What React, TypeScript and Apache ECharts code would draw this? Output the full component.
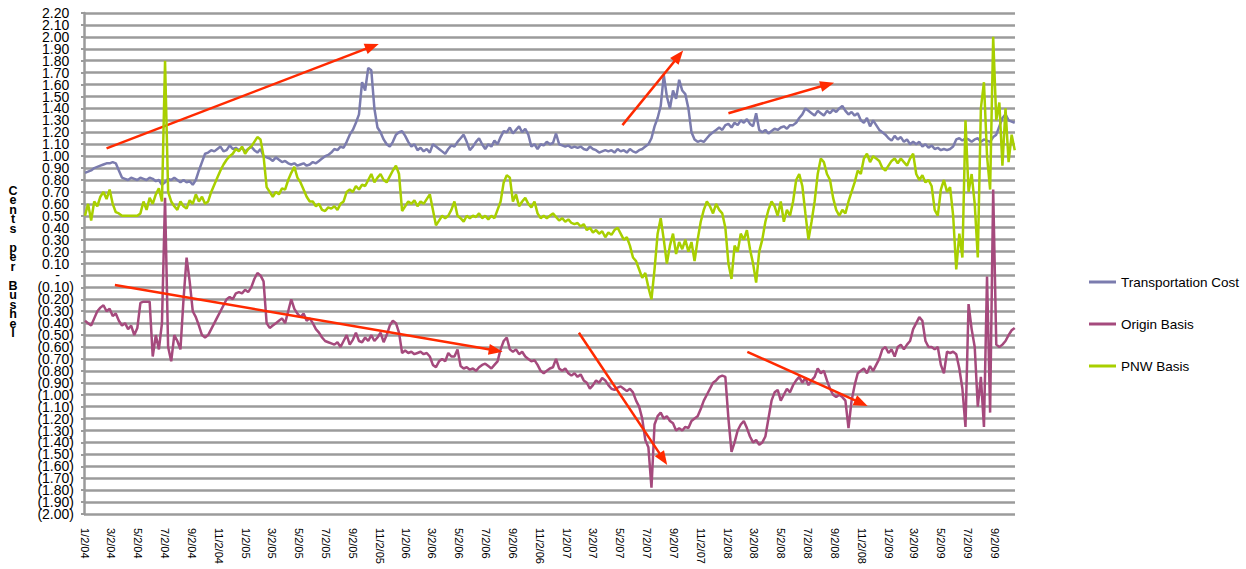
import React, { useEffect, useRef } from "react";
import * as echarts from "echarts";

const FONT = "'Liberation Sans', Arial, Helvetica, sans-serif";

const seriesNames = ["Transportation Cost", "Origin Basis", "PNW Basis"];
const seriesColors = ["#7b7cae", "#a54a7d", "#a8cf00"];

// weekly observations starting 1/2/04
const firstObservation = "1/2/04";
const observationStepDays = 7;

const xTickLabels = [
  "1/2/04", "3/2/04", "5/2/04", "7/2/04", "9/2/04", "11/2/04",
  "1/2/05", "3/2/05", "5/2/05", "7/2/05", "9/2/05", "11/2/05",
  "1/2/06", "3/2/06", "5/2/06", "7/2/06", "9/2/06", "11/2/06",
  "1/2/07", "3/2/07", "5/2/07", "7/2/07", "9/2/07", "11/2/07",
  "1/2/08", "3/2/08", "5/2/08", "7/2/08", "9/2/08", "11/2/08",
  "1/2/09", "3/2/09", "5/2/09", "7/2/09", "9/2/09",
];

const yMin = -2.0;
const yMax = 2.2;
const yStep = 0.1;

const transportationCost = [
  0.86, 0.87, 0.88, 0.90, 0.91, 0.92, 0.93, 0.94, 0.94, 0.95,
  0.94, 0.88, 0.82, 0.81, 0.80, 0.82, 0.81, 0.80, 0.82, 0.81,
  0.80, 0.82, 0.81, 0.79, 0.80, 0.76, 0.78, 0.81, 0.80, 0.82,
  0.80, 0.78, 0.80, 0.78, 0.79, 0.76, 0.80, 0.88, 0.95, 1.02,
  1.03, 1.05, 1.04, 1.06, 1.08, 1.04, 1.05, 1.09, 1.06, 1.07,
  1.05, 1.07, 1.04, 1.06, 1.08, 1.05, 1.03, 1.06, 1.00, 0.99,
  0.98, 0.96, 0.99, 0.97, 0.95, 0.96, 0.94, 0.93, 0.94, 0.92,
  0.93, 0.94, 0.92, 0.93, 0.95, 0.94, 0.96, 0.98, 1.00, 1.01,
  1.03, 1.06, 1.05, 1.08, 1.07, 1.12, 1.18, 1.22, 1.28, 1.35,
  1.62, 1.55, 1.74, 1.72, 1.40, 1.24, 1.20, 1.14, 1.10, 1.08,
  1.12, 1.18, 1.20, 1.21, 1.17, 1.12, 1.08, 1.10, 1.05, 1.07,
  1.04, 1.06, 1.03, 1.10, 1.08, 1.06, 1.04, 1.02, 1.06, 1.09,
  1.08, 1.12, 1.15, 1.18, 1.12, 1.05, 1.08, 1.12, 1.15, 1.10,
  1.06, 1.10, 1.08, 1.13, 1.10, 1.16, 1.21, 1.20, 1.24, 1.19,
  1.22, 1.25, 1.20, 1.23, 1.18, 1.08, 1.10, 1.06, 1.10, 1.09,
  1.12, 1.10, 1.11, 1.19, 1.10, 1.09, 1.08, 1.09, 1.07, 1.08,
  1.07, 1.08, 1.06, 1.05, 1.08, 1.06, 1.05, 1.03, 1.04, 1.05,
  1.04, 1.05, 1.03, 1.06, 1.04, 1.05, 1.03, 1.06, 1.04, 1.03,
  1.05, 1.06, 1.08, 1.10, 1.15, 1.25, 1.32, 1.42, 1.68, 1.50,
  1.40, 1.55, 1.48, 1.64, 1.55, 1.52, 1.40, 1.20, 1.14, 1.12,
  1.13, 1.12, 1.15, 1.18, 1.20, 1.22, 1.24, 1.22, 1.26, 1.27,
  1.24, 1.28, 1.26, 1.30, 1.28, 1.31, 1.27, 1.25, 1.36, 1.22,
  1.20, 1.22, 1.19, 1.21, 1.23, 1.22, 1.24, 1.25, 1.23, 1.26,
  1.26, 1.28, 1.32, 1.35, 1.40, 1.38, 1.36, 1.34, 1.38, 1.36,
  1.34, 1.38, 1.36, 1.39, 1.37, 1.40, 1.42, 1.38, 1.35, 1.37,
  1.34, 1.36, 1.30, 1.28, 1.32, 1.25, 1.30, 1.26, 1.22, 1.20,
  1.18, 1.15, 1.13, 1.17, 1.14, 1.16, 1.12, 1.14, 1.10, 1.12,
  1.10, 1.12, 1.08, 1.10, 1.07, 1.09, 1.06, 1.07, 1.05, 1.06,
  1.05, 1.06, 1.08, 1.14, 1.15, 1.13, 1.15, 1.14, 1.12, 1.14,
  1.15, 1.12, 1.14, 1.13, 1.12, 1.16, 1.18, 1.25, 1.32, 1.35,
  1.30, 1.29, 1.28,
];

const originBasis = [
  -0.38, -0.40, -0.42, -0.36, -0.30, -0.27, -0.25, -0.30, -0.28, -0.34,
  -0.32, -0.38, -0.42, -0.40, -0.45, -0.42, -0.50, -0.44, -0.23, -0.22,
  -0.22, -0.22, -0.68, -0.50, -0.62, -0.40, 0.65, -0.60, -0.72, -0.50,
  -0.55, -0.62, -0.20, 0.15, -0.05, -0.30, -0.35, -0.42, -0.50, -0.52,
  -0.50, -0.45, -0.40, -0.35, -0.30, -0.25, -0.20, -0.18, -0.20, -0.15,
  -0.14, -0.15, -0.12, -0.14, -0.10, -0.03, 0.02, 0.00, -0.05, -0.40,
  -0.44, -0.42, -0.40, -0.38, -0.36, -0.40, -0.30, -0.20, -0.28, -0.32,
  -0.35, -0.32, -0.38, -0.36, -0.40, -0.45, -0.48, -0.52, -0.55, -0.56,
  -0.57, -0.58, -0.56, -0.60, -0.55, -0.50, -0.58, -0.54, -0.48, -0.55,
  -0.56, -0.52, -0.55, -0.50, -0.55, -0.52, -0.48, -0.56, -0.50, -0.42,
  -0.38, -0.40, -0.48, -0.65, -0.63, -0.65, -0.64, -0.66, -0.65, -0.64,
  -0.66, -0.65, -0.68, -0.75, -0.77, -0.72, -0.70, -0.72, -0.65, -0.68,
  -0.68, -0.62, -0.76, -0.78, -0.77, -0.79, -0.78, -0.80, -0.77, -0.75,
  -0.74, -0.76, -0.78, -0.75, -0.72, -0.62, -0.55, -0.52, -0.62, -0.64,
  -0.62, -0.66, -0.64, -0.68, -0.70, -0.72, -0.71, -0.75, -0.80, -0.82,
  -0.80, -0.78, -0.77, -0.70, -0.78, -0.80, -0.78, -0.82, -0.84, -0.82,
  -0.85, -0.83, -0.88, -0.90, -0.95, -0.92, -0.88, -0.90, -0.86, -0.88,
  -0.92, -0.95, -0.96, -0.94, -0.93, -0.95, -0.97, -0.95, -0.98, -1.05,
  -1.10, -1.20, -1.38, -1.44, -1.78, -1.25, -1.18, -1.15, -1.20, -1.18,
  -1.22, -1.24, -1.30, -1.28, -1.30, -1.27, -1.28, -1.22, -1.20, -1.18,
  -1.12, -1.05, -1.00, -0.95, -0.90, -0.88, -0.85, -0.84, -0.85, -1.20,
  -1.48, -1.40, -1.30, -1.25, -1.22, -1.28, -1.35, -1.40, -1.38, -1.42,
  -1.40, -1.35, -1.20, -1.05, -0.98, -0.96, -1.05, -1.00, -0.95, -0.98,
  -0.92, -0.88, -0.85, -0.90, -0.86, -0.92, -0.88, -0.85, -0.78, -0.82,
  -0.80, -0.88, -0.95, -1.00, -1.02, -1.00, -1.02, -1.05, -1.28, -1.05,
  -0.92, -0.82, -0.80, -0.78, -0.82, -0.76, -0.80, -0.75, -0.70, -0.62,
  -0.60, -0.65, -0.62, -0.68, -0.60, -0.58, -0.62, -0.58, -0.55, -0.45,
  -0.40, -0.35, -0.38, -0.55, -0.60, -0.60, -0.62, -0.60, -0.75, -0.82,
  -0.64, -0.65, -0.64, -0.66, -0.78, -0.95, -1.27, -0.24, -0.45, -0.60,
  -1.10, -0.85, -1.27, -0.01, -1.15, 0.72, -0.58, -0.60, -0.58, -0.55,
  -0.50, -0.46, -0.44,
];

const pnwBasis = [
  0.50, 0.60, 0.46, 0.62, 0.58, 0.66, 0.70, 0.64, 0.72, 0.60,
  0.53, 0.52, 0.50, 0.50, 0.50, 0.50, 0.50, 0.50, 0.52, 0.62,
  0.55, 0.65, 0.60, 0.68, 0.73, 0.62, 1.80, 0.70, 0.62, 0.58,
  0.55, 0.62, 0.58, 0.56, 0.63, 0.60, 0.68, 0.62, 0.66, 0.60,
  0.62, 0.70, 0.76, 0.82, 0.88, 0.93, 0.97, 1.00, 1.02, 1.06,
  1.04, 1.08, 1.02, 1.06, 1.08, 1.12, 1.16, 1.14, 1.00, 0.74,
  0.70, 0.66, 0.70, 0.68, 0.73, 0.72, 0.80, 0.86, 0.91, 0.82,
  0.78, 0.72, 0.66, 0.62, 0.62, 0.58, 0.60, 0.55, 0.54, 0.57,
  0.56, 0.58, 0.55, 0.60, 0.62, 0.70, 0.72, 0.70, 0.75, 0.72,
  0.76, 0.75, 0.80, 0.85, 0.78, 0.82, 0.85, 0.80, 0.78, 0.83,
  0.88, 0.92, 0.85, 0.54, 0.58, 0.62, 0.60, 0.63, 0.58, 0.62,
  0.60, 0.64, 0.68, 0.55, 0.42, 0.46, 0.50, 0.48, 0.50, 0.55,
  0.62, 0.50, 0.48, 0.45, 0.50, 0.48, 0.50, 0.49, 0.52, 0.48,
  0.50, 0.47, 0.50, 0.48, 0.55, 0.62, 0.78, 0.84, 0.82, 0.62,
  0.68, 0.58, 0.62, 0.65, 0.60, 0.57, 0.62, 0.52, 0.48, 0.50,
  0.48, 0.50, 0.52, 0.49, 0.46, 0.48, 0.45, 0.47, 0.44, 0.43,
  0.44, 0.41, 0.43, 0.38, 0.40, 0.36, 0.38, 0.35, 0.37, 0.32,
  0.36, 0.34, 0.38, 0.40, 0.35, 0.30, 0.32, 0.25, 0.15, 0.12,
  0.05, -0.02, 0.02, -0.10, -0.20, 0.05, 0.35, 0.48, 0.30, 0.10,
  0.25, 0.35, 0.18, 0.28, 0.22, 0.30, 0.20, 0.28, 0.12, 0.30,
  0.45, 0.55, 0.62, 0.58, 0.52, 0.60, 0.55, 0.52, 0.40, 0.10,
  -0.03, 0.25, 0.20, 0.35, 0.30, 0.38, 0.22, 0.10, -0.06, 0.20,
  0.30, 0.45, 0.55, 0.62, 0.58, 0.50, 0.62, 0.45, 0.55, 0.50,
  0.62, 0.80, 0.85, 0.75, 0.52, 0.30, 0.45, 0.62, 0.85, 0.98,
  0.95, 0.85, 0.80, 0.65, 0.55, 0.50, 0.55, 0.52, 0.62, 0.70,
  0.78, 0.88, 0.85, 0.98, 1.02, 0.95, 1.00, 0.98, 0.96, 0.90,
  0.88, 0.92, 0.96, 0.98, 0.94, 0.98, 0.95, 0.92, 0.98, 1.02,
  0.85, 0.80, 0.84, 0.78, 0.80, 0.75, 0.55, 0.50, 0.72, 0.80,
  0.70, 0.74, 0.50, 0.05, 0.35, 0.15, 1.30, 0.70, 0.85, 0.60,
  0.15, 1.40, 1.62, 1.00, 0.72, 2.00, 1.30, 1.45, 0.92, 1.40,
  0.95, 1.18, 1.05,
];

// red trend arrows: [start date, start value, end date, end value]
const trendArrows: [string, number, string, number][] = [
  ["2/20/04", 1.065, "10/16/05", 1.92],
  ["5/8/07", 1.26, "9/13/07", 1.84],
  ["1/4/08", 1.36, "8/16/08", 1.6],
  ["3/10/04", -0.08, "7/24/06", -0.63],
  ["1/29/07", -0.48, "8/9/07", -1.54],
  ["2/16/08", -0.64, "11/1/08", -1.07],
];

const axisTitle = "Cents per Bushel";

const DAY = 86400000;

function parseDate(s: string): number {
  const [m, d, y] = s.split("/").map(Number);
  return Date.UTC(2000 + y, m - 1, d);
}

const start = parseDate(firstObservation);

// days elapsed since the first observation
function dayOf(s: string): number {
  return Math.round((parseDate(s) - start) / DAY);
}

function fmtDay(day: number): string {
  const d = new Date(start + Math.round(day) * DAY);
  return `${d.getUTCMonth() + 1}/${d.getUTCDate()}/${String(d.getUTCFullYear() % 100).padStart(2, "0")}`;
}

const axisMin = -2.27;
const axisMax = 2114.6;

function fmtCents(v: number): string {
  const r = Math.round(v * 100) / 100;
  if (Math.abs(r) < 0.001) return "{z|-}";
  const s = Math.abs(r).toFixed(2);
  return r < 0 ? `{n|(${s})}` : `{p|${s}}`;
}

function buildOption() {
  const values = [transportationCost, originBasis, pnwBasis];
  const baseText = { fontSize: 14, fontFamily: FONT, color: "#000", lineHeight: 10 };
  const rich = {
    p: { ...baseText, padding: [0, 4.7, 0, 0] },
    n: { ...baseText },
    z: { ...baseText, padding: [0, 14, 0, 0] },
  };
  // tick values split in two alternating sets so no label hides its neighbour
  const nTicks = Math.round((yMax - yMin) / yStep);
  const evenTicks: number[] = [];
  const oddTicks: number[] = [];
  for (let i = 0; i <= nTicks; i++) {
    const t = Math.round((yMin + i * yStep) * 100) / 100;
    (i % 2 === 0 ? evenTicks : oddTicks).push(t);
  }

  const series: any[] = values.map((vals, k) => ({
    name: seriesNames[k],
    type: "line",
    data: vals.map((v, i) => [i * observationStepDays, v]),
    showSymbol: false,
    symbol: "none",
    color: seriesColors[k],
    lineStyle: { width: 2.5, color: seriesColors[k] },
    z: 3 + k,
  }));
  series[2].markLine = {
    silent: true,
    symbol: ["none", "triangle"],
    symbolSize: [11, 14],
    label: { show: false },
    emphasis: { disabled: true },
    lineStyle: { color: "#ff2a00", width: 2.5, type: "solid" },
    data: trendArrows.map((a) => [
      { coord: [dayOf(a[0]), a[1]] },
      { coord: [dayOf(a[2]), a[3]] },
    ]),
  };

  const labelBase = {
    margin: 10,
    fontSize: 14,
    lineHeight: 10,
    fontFamily: FONT,
    color: "#000",
    formatter: fmtCents,
    rich,
    showMinLabel: true,
    showMaxLabel: true,
  };

  return {
    animation: false,
    backgroundColor: "#fff",
    grid: { left: 84, top: 13, width: 931, height: 501, containLabel: false },
    legend: {
      orient: "vertical",
      left: 1084,
      top: 270,
      itemWidth: 27,
      itemHeight: 3,
      itemGap: 28,
      icon: "rect",
      data: seriesNames,
      textStyle: { fontSize: 13.5, fontFamily: FONT, color: "#000", lineHeight: 14 },
    },
    xAxis: {
      type: "value",
      min: axisMin,
      max: axisMax,
      axisLine: { show: false, onZero: false },
      axisTick: { show: false },
      splitLine: { show: false },
      axisLabel: {
        customValues: xTickLabels.map(dayOf),
        formatter: (v: number) => fmtDay(v),
        rotate: -90,
        margin: 14,
        fontSize: 11,
        fontFamily: FONT,
        color: "#000",
      },
    },
    yAxis: [
      {
        type: "value",
        min: yMin,
        max: yMax,
        interval: yStep,
        axisLine: { show: true, onZero: false, lineStyle: { color: "#9a9a9a", width: 2.5 } },
        axisTick: { show: true, length: 3, lineStyle: { color: "#9a9a9a", width: 2 } },
        splitLine: { show: true, lineStyle: { color: "#9b9b9b", width: 2.5 } },
        axisLabel: { ...labelBase, customValues: evenTicks },
      },
      {
        type: "value",
        position: "left",
        min: yMin,
        max: yMax,
        interval: yStep,
        axisLine: { show: false, onZero: false },
        axisTick: { show: false },
        splitLine: { show: false },
        axisLabel: { ...labelBase, customValues: oddTicks },
      },
    ],
    graphic: [
      {
        type: "text",
        x: 13,
        y: 186,
        silent: true,
        style: {
          text: axisTitle
            .split(" ")
            .map((w) => w.split("").join("\n"))
            .join("\n\n"),
          fontSize: 12.5,
          fontWeight: "bold",
          fontFamily: FONT,
          fill: "#000",
          lineHeight: 9.5,
          align: "center",
          verticalAlign: "top",
        },
      },
    ],
    series,
  };
}

export default function App() {
  const ref = useRef<HTMLDivElement>(null);
  useEffect(() => {
    if (!ref.current) return;
    const chart = echarts.init(ref.current, null, { renderer: "svg" });
    chart.setOption(buildOption() as any);
    return () => chart.dispose();
  }, []);
  return (
    <div
      ref={ref}
      style={{ position: "fixed", left: 0, top: 0, width: 1246, height: 569, background: "#fff" }}
    />
  );
}
